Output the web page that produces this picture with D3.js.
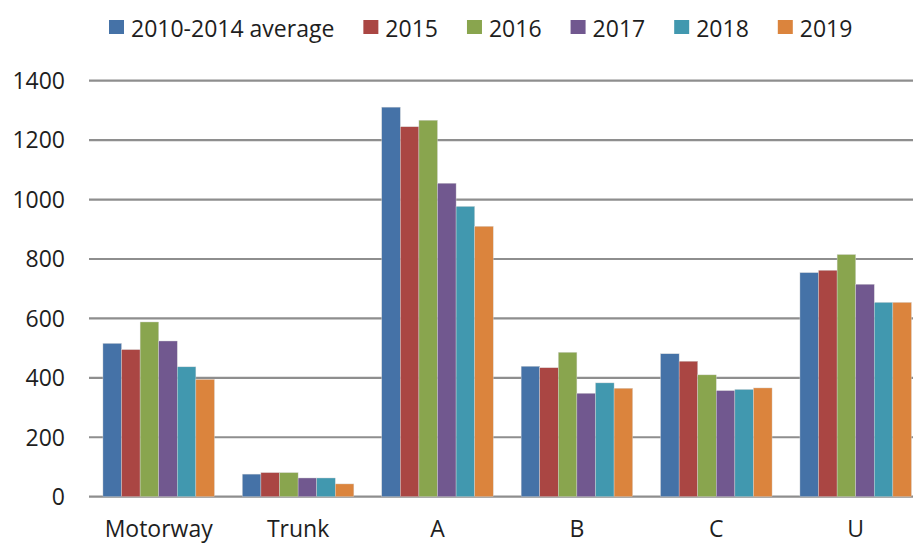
<!DOCTYPE html>
<html>
<head>
<meta charset="utf-8">
<script src="https://cdn.jsdelivr.net/npm/d3@7"></script>
<style>
  body { margin: 0; background: #fff; }
  svg text { font-family: "Open Sans", "Noto Sans", sans-serif; fill: #1e1e1e; }
</style>
</head>
<body>
<svg id="chart" width="913" height="543"></svg>
<script>
// road classes and years
let categories = ["Motorway", "Trunk", "A", "B", "C", "U"];
let series = ["2010-2014 average", "2015", "2016", "2017", "2018", "2019"];
let colors = ["#4572a7", "#aa4643", "#89a54e", "#71588f", "#4198af", "#db843d"];

// values per series, in category order
let avg1014 = [516, 76, 1311, 439, 481, 754];
let y2015 = [495, 81, 1245, 434, 456, 762];
let y2016 = [588, 81, 1267, 486, 410, 815];
let y2017 = [524, 63, 1055, 348, 357, 715];
let y2018 = [437, 63, 977, 383, 361, 654];
let y2019 = [395, 43, 910, 365, 366, 654];
let yTicks = [0, 200, 400, 600, 800, 1000, 1200, 1400];

let values = [avg1014, y2015, y2016, y2017, y2018, y2019];

var svg = d3.select("#chart");

// scales
let x = d3.scaleBand()
    .domain(categories)
    .range([89, 925.4])
    .paddingInner(0.2)
    .paddingOuter(0.1);
let xs = d3.scaleBand()
    .domain(series)
    .range([0, x.bandwidth()]);
let y = d3.scaleLinear()
    .domain([0, 1400])
    .range([496.7, 80.7]);

// gridlines
svg.append("g").selectAll("line")
    .data(yTicks)
    .join("line")
    .attr("x1", 89)
    .attr("x2", 913)
    .attr("y1", d => y(d))
    .attr("y2", d => y(d))
    .attr("stroke", "#8e8e8e")
    .attr("stroke-width", 2.2);

// y tick labels
svg.append("g").selectAll("text")
    .data(yTicks)
    .join("text")
    .attr("x", 65)
    .attr("y", d => y(d) + 8.3)
    .attr("text-anchor", "end")
    .attr("font-size", 23)
    .text(d => d);

// bars
series.forEach(function (s, i) {
    svg.append("g").selectAll("rect")
        .data(categories)
        .join("rect")
        .attr("x", c => x(c) + xs(s))
        .attr("width", xs.bandwidth())
        .attr("y", (c, j) => y(values[i][j]))
        .attr("height", (c, j) => y(0) - y(values[i][j]))
        .attr("fill", colors[i])
        .attr("stroke", "#d8d8d8")
        .attr("stroke-width", 0.4);
});

// category labels
svg.append("g").selectAll("text")
    .data(categories)
    .join("text")
    .attr("x", c => x(c) + x.bandwidth() / 2)
    .attr("y", 537)
    .attr("text-anchor", "middle")
    .attr("font-size", 23)
    .text(c => c);

// legend: square, gap, label, gap
let lx = 109;
series.forEach(function (s, i) {
    svg.append("rect")
        .attr("x", lx)
        .attr("y", 20)
        .attr("width", 15)
        .attr("height", 14)
        .attr("fill", colors[i]);
    let t = svg.append("text")
        .attr("x", lx + 22)
        .attr("y", 36.5)
        .attr("font-size", 23)
        .text(s);
    lx = lx + 22 + t.node().getComputedTextLength() + 29;
});
</script>
</body>
</html>
